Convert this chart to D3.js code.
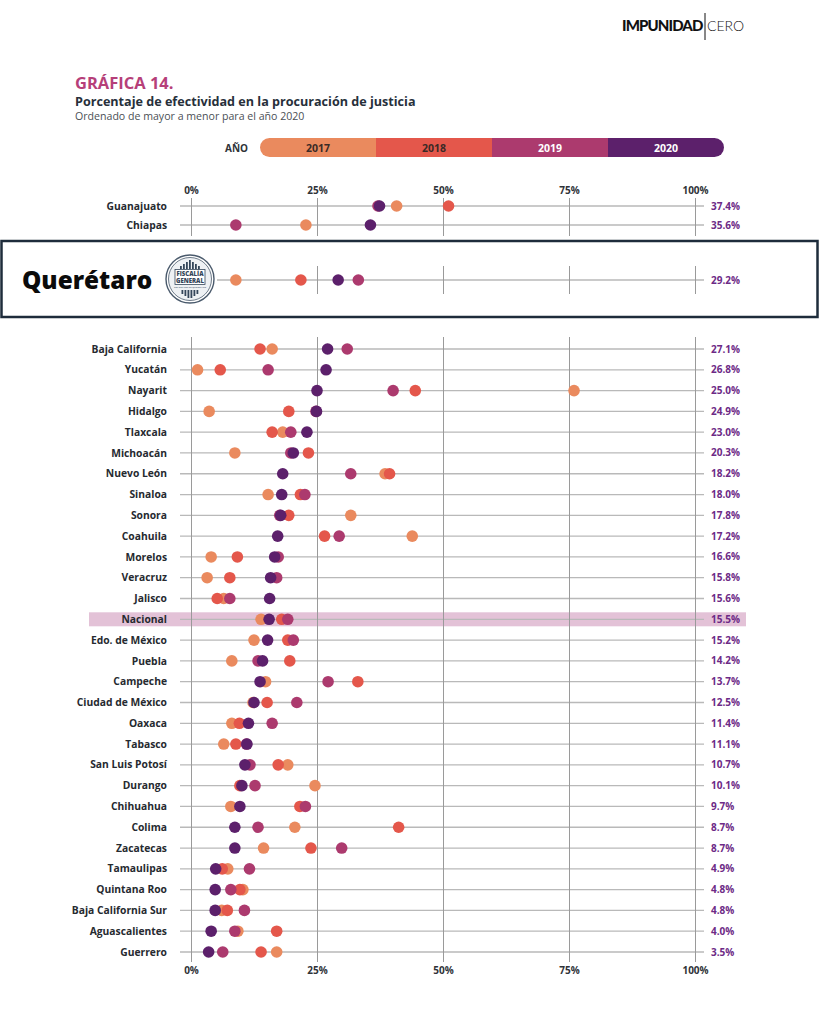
<!DOCTYPE html>
<html>
<head>
<meta charset="utf-8">
<script src="https://cdn.jsdelivr.net/npm/d3@7"></script>
<style>
  body { margin: 0; background: #fff; }
  svg { font-family: "Open Sans", "Noto Sans", sans-serif; display: block; }
</style>
</head>
<body>
<div class="chart"></div>
<script>
// --- data ---
var years = ["2017", "2018", "2019", "2020"];
var yearColors = ["#ea8a5e", "#e4574b", "#ac3a6e", "#5c206b"];
var tickValues = [0, 25, 50, 75, 100];

var topStates = ["Guanajuato", "Chiapas"];
var top2017 = [40.8, 22.8];
var top2018 = [51.1, null];
var top2019 = [37.1, 8.9];
var top2020 = [37.4, 35.6];

var qroState = "Querétaro";
var qro2017 = 8.9;
var qro2018 = 21.8;
var qro2019 = 33.2;
var qro2020 = 29.2;

var states = ["Baja California", "Yucatán", "Nayarit", "Hidalgo", "Tlaxcala", "Michoacán",
  "Nuevo León", "Sinaloa", "Sonora", "Coahuila", "Morelos", "Veracruz", "Jalisco", "Nacional",
  "Edo. de México", "Puebla", "Campeche", "Ciudad de México", "Oaxaca", "Tabasco",
  "San Luis Potosí", "Durango", "Chihuahua", "Colima", "Zacatecas", "Tamaulipas",
  "Quintana Roo", "Baja California Sur", "Aguascalientes", "Guerrero"];
var v2017 = [16.1, 1.3, 76.0, 3.6, 18.2, 8.7, 38.5, 15.3, 31.7, 43.9, 4.0, 3.2, 6.5, 13.9,
  12.5, 8.1, 14.8, 12.3, 8.1, 6.5, 19.2, 24.6, 7.9, 20.6, 14.4, 7.3, 10.3, 6.1, 9.3, 17.0];
var v2018 = [13.7, 5.8, 44.5, 19.4, 16.1, 23.3, 39.4, 21.7, 19.4, 26.5, 9.2, 7.7, 5.2, 18.0,
  19.2, 19.6, 33.1, 15.1, 9.6, 8.9, 17.3, 9.7, 21.6, 41.2, 23.8, 6.2, 9.7, 7.2, 17.0, 13.9];
var v2019 = [31.0, 15.3, 40.1, 24.8, 19.8, 19.8, 31.7, 22.6, 17.6, 29.4, 17.3, 17.0, 7.7, 19.2,
  20.3, 13.3, 27.2, 21.0, 16.1, 11.0, 11.7, 12.7, 22.7, 13.3, 29.9, 11.6, 7.9, 10.6, 8.7, 6.3];
var v2020 = [27.1, 26.8, 25.0, 24.9, 23.0, 20.3, 18.2, 18.0, 17.8, 17.2, 16.6, 15.8, 15.6, 15.5,
  15.2, 14.2, 13.7, 12.5, 11.4, 11.1, 10.7, 10.1, 9.7, 8.7, 8.7, 4.9, 4.8, 4.8, 4.0, 3.5];

// --- setup ---
var svgWidth = 819;
var svgHeight = 1024;
var svg = d3.select(".chart")
  .append("svg")
  .attr("width", svgWidth)
  .attr("height", svgHeight);

var x = d3.scaleLinear().domain([0, 100]).range([191, 695]);
var color = d3.scaleOrdinal().domain(years).range(yearColors);
var fmt = d3.format(".1f");
var dotR = 5.8;

function toLong(names, a, b, c, d) {
  var out = [];
  var cols = [a, b, c, d];
  names.forEach(function(n, i) {
    years.forEach(function(yr, j) {
      var v = cols[j][i];
      if (v != null) out.push({ state: n, year: yr, value: v });
    });
  });
  return out;
}

function drawDots(g, data, y) {
  g.selectAll("circle.dot")
    .data(data)
    .enter()
    .append("circle")
    .attr("class", "dot")
    .attr("cx", d => x(d.value))
    .attr("cy", d => y(d.state))
    .attr("r", dotR)
    .attr("fill", d => color(d.year));
}

function drawGrid(g, y0, y1) {
  g.append("g")
    .attr("transform", `translate(0, ${y0})`)
    .call(d3.axisBottom(x).tickValues(tickValues).tickSize(y1 - y0).tickFormat(""))
    .call(a => a.select(".domain").remove())
    .call(a => a.selectAll("line").attr("stroke", "#9a9a9a").attr("stroke-width", 1));
}

function drawTickLabels(yPos) {
  svg.append("g")
    .attr("transform", `translate(0, ${yPos})`)
    .call(d3.axisTop(x).tickValues(tickValues).tickSize(0).tickFormat(d => d + "%"))
    .call(a => a.select(".domain").remove())
    .call(a => a.selectAll("text")
      .attr("font-family", "'Open Sans', sans-serif")
      .attr("font-weight", "bold")
      .attr("font-size", "10px")
      .attr("fill", "#2f3338"));
}

function rowLines(g, names, y, x0) {
  g.selectAll("line.row")
    .data(names)
    .enter()
    .append("line")
    .attr("class", "row")
    .attr("x1", x0)
    .attr("x2", 704)
    .attr("y1", d => y(d))
    .attr("y2", d => y(d))
    .attr("stroke", "#b9b9b9")
    .attr("stroke-width", 1.3);
}

function rowLabels(g, names, y) {
  g.selectAll("text.lab")
    .data(names)
    .enter()
    .append("text")
    .attr("class", "lab")
    .attr("x", 167)
    .attr("y", d => y(d))
    .attr("dy", "0.35em")
    .attr("text-anchor", "end")
    .attr("font-size", "10.3px")
    .attr("font-weight", "bold")
    .attr("fill", "#262a30")
    .text(d => d);
}

function valueLabels(g, names, vals, y) {
  g.selectAll("text.val")
    .data(names)
    .enter()
    .append("text")
    .attr("class", "val")
    .attr("x", 711)
    .attr("y", d => y(d))
    .attr("dy", "0.35em")
    .attr("font-size", "10px")
    .attr("font-weight", "bold")
    .attr("fill", "#6d2a86")
    .text((d, i) => fmt(vals[i]) + "%");
}

// --- header logo ---
svg.append("text")
  .attr("x", 622).attr("y", 31)
  .attr("font-family", "Lato, sans-serif")
  .attr("font-size", "15px").attr("font-weight", 900)
  .attr("letter-spacing", "-0.9px")
  .attr("fill", "#111")
  .text("IMPUNIDAD");
svg.append("line")
  .attr("x1", 705).attr("x2", 705).attr("y1", 13).attr("y2", 40)
  .attr("stroke", "#111").attr("stroke-width", 1);
svg.append("text")
  .attr("x", 707).attr("y", 31)
  .attr("font-family", "Lato, sans-serif")
  .attr("font-size", "14px").attr("font-weight", 300)
  .attr("fill", "#111")
  .text("CERO");

// --- titles ---
svg.append("text")
  .attr("x", 75).attr("y", 88.5)
  .attr("font-size", "16.5px").attr("font-weight", "bold")
  .attr("fill", "#b63f79")
  .text("GRÁFICA 14.");
svg.append("text")
  .attr("x", 75).attr("y", 106)
  .attr("font-size", "12.6px").attr("font-weight", "bold")
  .attr("fill", "#27303b")
  .text("Porcentaje de efectividad en la procuración de justicia");
svg.append("text")
  .attr("x", 75).attr("y", 120)
  .attr("font-size", "10.6px")
  .attr("fill", "#4a4f55")
  .text("Ordenado de mayor a menor para el año 2020");

// --- legend ---
var legX = d3.scaleBand().domain(years).range([260, 724]);
var legend = svg.append("g");
legend.append("clipPath").attr("id", "legclip")
  .append("rect")
  .attr("x", 260).attr("y", 138).attr("width", 464).attr("height", 19).attr("rx", 9.5);
legend.append("g").attr("clip-path", "url(#legclip)")
  .selectAll("rect")
  .data(years)
  .enter()
  .append("rect")
  .attr("x", d => legX(d))
  .attr("y", 138)
  .attr("width", legX.bandwidth() + 0.5)
  .attr("height", 19)
  .attr("fill", d => color(d));
legend.selectAll("text.yr")
  .data(years)
  .enter()
  .append("text")
  .attr("class", "yr")
  .attr("x", d => legX(d) + legX.bandwidth() / 2)
  .attr("y", 148)
  .attr("dy", "0.35em")
  .attr("text-anchor", "middle")
  .attr("font-size", "10.5px").attr("font-weight", "bold")
  .attr("fill", (d, i) => i < 2 ? "#3a2a26" : "#ffffff")
  .text(d => d);
legend.append("text")
  .attr("x", 248).attr("y", 148).attr("dy", "0.35em")
  .attr("text-anchor", "end")
  .attr("font-size", "10px").attr("font-weight", "bold")
  .attr("fill", "#2f3338")
  .text("AÑO");

// --- top section ---
drawTickLabels(197);
var yTop = d3.scalePoint().domain(topStates).range([206, 225]);
var gTop = svg.append("g");
rowLines(gTop, topStates, yTop, 180);
drawGrid(gTop, 198, 236);
rowLabels(gTop, topStates, yTop);
valueLabels(gTop, topStates, top2020, yTop);
drawDots(gTop, toLong(topStates, top2017, top2018, top2019, top2020), yTop);

// --- Querétaro box ---
var gQ = svg.append("g");
gQ.append("rect")
  .attr("x", 1.5).attr("y", 241).attr("width", 816).attr("height", 76)
  .attr("fill", "#fff").attr("stroke", "#1e2c3b").attr("stroke-width", 2.5);
var yQ = d3.scalePoint().domain([qroState]).range([280, 280]);
rowLines(gQ, [qroState], yQ, 217);
gQ.append("g")
  .attr("transform", "translate(0, 266)")
  .call(d3.axisBottom(x).tickValues([25, 50, 75, 100]).tickSize(28).tickFormat(""))
  .call(a => a.select(".domain").remove())
  .call(a => a.selectAll("line").attr("stroke", "#9a9a9a"));
gQ.append("text")
  .attr("x", 22).attr("y", 280).attr("dy", "0.36em")
  .attr("font-size", "24.3px").attr("font-weight", 800)
  .attr("fill", "#0b0b0b")
  .text(qroState);
valueLabels(gQ, [qroState], [qro2020], yQ);
drawDots(gQ, toLong([qroState], [qro2017], [qro2018], [qro2019], [qro2020]), yQ);

// Fiscalía emblem
var emb = gQ.append("g").attr("transform", "translate(190, 279)");
emb.append("circle").attr("r", 24).attr("fill", "#fff").attr("stroke", "#4a5a6c").attr("stroke-width", 1.4);
emb.append("circle").attr("r", 21.5).attr("fill", "#eef1f4").attr("stroke", "#4a5a6c").attr("stroke-width", 0.8);
var barsTop = [3, 5, 7, 9, 7, 5, 3];
emb.selectAll("rect.bt")
  .data(barsTop)
  .enter()
  .append("rect")
  .attr("class", "bt")
  .attr("x", (d, i) => -10 + i * 3)
  .attr("y", d => -10 - d)
  .attr("width", 1.8)
  .attr("height", d => d)
  .attr("fill", "#34465a");
emb.append("rect").attr("x", -15).attr("y", -9.5).attr("width", 30).attr("height", 15)
  .attr("fill", "#fff").attr("stroke", "#34465a").attr("stroke-width", 0.8);
emb.append("text").attr("y", -3).attr("text-anchor", "middle")
  .attr("font-size", "6px").attr("font-weight", 800).attr("fill", "#34465a")
  .text("FISCALÍA");
emb.append("text").attr("y", 3.6).attr("text-anchor", "middle")
  .attr("font-size", "6px").attr("font-weight", 800).attr("fill", "#34465a")
  .text("GENERAL");
emb.append("text").attr("y", 9).attr("text-anchor", "middle")
  .attr("font-size", "2.4px").attr("fill", "#34465a")
  .text("DEL ESTADO DE QUERÉTARO");
var barsBot = [4, 6, 8, 8, 6, 4];
emb.selectAll("rect.bb")
  .data(barsBot)
  .enter()
  .append("rect")
  .attr("class", "bb")
  .attr("x", (d, i) => -8.5 + i * 3)
  .attr("y", 11)
  .attr("width", 1.8)
  .attr("height", d => d)
  .attr("fill", "#34465a");

// --- main section ---
var yMain = d3.scalePoint().domain(states).range([349, 952]);
var gMain = svg.append("g");
gMain.append("rect")
  .attr("x", 89).attr("y", yMain("Nacional") - 7).attr("width", 657).attr("height", 14)
  .attr("fill", "#e3c2d7");
rowLines(gMain, states, yMain, 180);
drawGrid(gMain, 337, 962);
rowLabels(gMain, states, yMain);
valueLabels(gMain, states, v2020, yMain);
drawDots(gMain, toLong(states, v2017, v2018, v2019, v2020), yMain);
drawTickLabels(977);
</script>
</body>
</html>
